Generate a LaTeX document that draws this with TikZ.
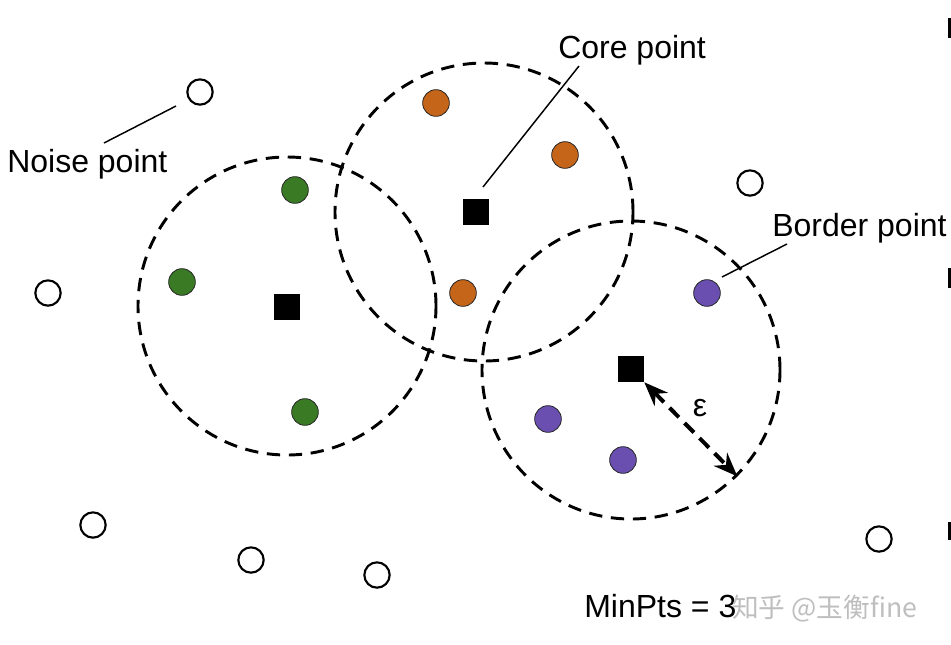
\documentclass[tikz,border=0pt]{standalone}
\usepackage{fontspec}
\setmainfont{Liberation Sans}
\newfontfamily\cjkfont{Noto Sans CJK SC}
\usetikzlibrary{arrows.meta, calc}
\definecolor{ptgreen}{RGB}{58,122,36}
\definecolor{ptorange}{RGB}{196,101,26}
\definecolor{ptpurple}{RGB}{106,79,176}
\definecolor{wmgray}{RGB}{190,190,190}

\begin{document}
\begin{tikzpicture}[
    x=0.75pt, y=-0.75pt,
    nbhd/.style={circle, draw=black, line width=2.2pt, dash pattern=on 10pt off 6.5pt, minimum size=223.5pt, inner sep=0pt},
    dot/.style={circle, draw=black!85, line width=0.6pt, minimum size=20pt, inner sep=0pt},
    noise/.style={circle, draw=black, line width=1.6pt, fill=white, minimum size=19pt, inner sep=0pt},
    core/.style={rectangle, fill=black, minimum size=19.5pt, inner sep=0pt},
    lbl/.style={font=\fontsize{24}{28}\selectfont, inner sep=0pt, anchor=base west},
    leader/.style={line width=1.1pt},
    arrow/.style={line width=3pt, dash pattern=on 10pt off 6pt, {Stealth[length=18pt,width=14pt]}-{Stealth[length=18pt,width=14pt]}}
]
    \useasboundingbox (0,0) rectangle (951,644);

    % eps-neighbourhoods
    \node[nbhd] (nbhd1) at (287,306) {};
    \node[nbhd] (nbhd2) at (484,212) {};
    \node[nbhd] (nbhd3) at (631,370) {};

    % core points
    \node[core] (core1) at (287,307) {};
    \node[core] (core2) at (476,212) {};
    \node[core] (core3) at (631,369) {};

    % cluster members
    \node[dot, fill=ptgreen] (g1) at (295,190) {};
    \node[dot, fill=ptgreen] (g2) at (182,282) {};
    \node[dot, fill=ptgreen] (g3) at (305,412) {};
    \node[dot, fill=ptorange] (o1) at (436,103) {};
    \node[dot, fill=ptorange] (o2) at (565,155) {};
    \node[dot, fill=ptorange] (o3) at (463,293) {};
    \node[dot, fill=ptpurple] (p1) at (707,293) {};
    \node[dot, fill=ptpurple] (p2) at (548,419) {};
    \node[dot, fill=ptpurple] (p3) at (623,460) {};

    % noise points
    \node[noise] (n1) at (200,92) {};
    \node[noise] (n2) at (48,293) {};
    \node[noise] (n3) at (750,183) {};
    \node[noise] (n4) at (93,525) {};
    \node[noise] (n5) at (251,560) {};
    \node[noise] (n6) at (377,575) {};
    \node[noise] (n7) at (879,539) {};

    % labels
    \node[lbl] (noiselbl) at (7,172) {Noise point};
    \node[lbl] (corelbl) at (558,58) {Core point};
    \node[lbl] (borderlbl) at (772,236) {Border point};
    \node[lbl] (minpts) at (584,617) {MinPts = 3};
    \node[font=\fontsize{24}{28}\selectfont] (eps) at (700,408) {ε};

    % leader lines
    \coordinate (noiseA) at (104,143);
    \coordinate (noiseB) at (176,106);
    \coordinate (coreA) at (579,66);
    \coordinate (coreB) at (483,187);
    \coordinate (borderA) at (787,244);
    \coordinate (borderB) at (722,277);
    \draw[leader] (noiseA) -- (noiseB);
    \draw[leader] (coreA) -- (coreB);
    \draw[leader] (borderA) -- (borderB);

    % radius
    \draw[arrow] (core3.south east) -- (nbhd3.-45);

    % watermark
    \node[lbl, font=\cjkfont\fontsize{20}{24}\selectfont, text=wmgray] (wm) at (732,617) {知乎 @玉衡fine};

    % clipped marks at the right edge
    \fill (948,18) rectangle (950.5,38);
    \fill (948,268) rectangle (950.5,288);
    \fill (948,522) rectangle (950.5,540);
\end{tikzpicture}
\end{document}
